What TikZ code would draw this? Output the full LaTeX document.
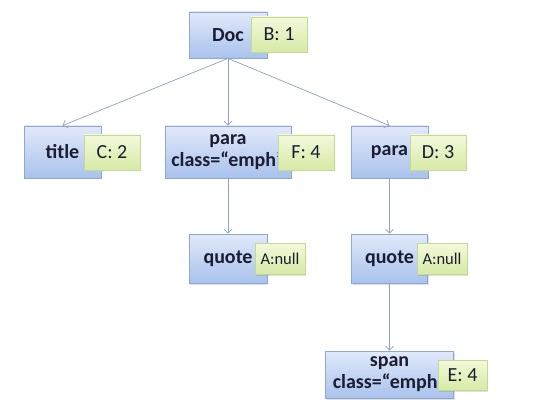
\documentclass[tikz,border=0pt]{standalone}
\usepackage{fontspec}
\setmainfont{Carlito}
\usetikzlibrary{arrows.meta,shadows}
\definecolor{boxtop}{HTML}{E1E9FA}
\definecolor{boxbot}{HTML}{A9C2EC}
\definecolor{boxline}{HTML}{8EA8D4}
\definecolor{tagtop}{HTML}{F3F9DA}
\definecolor{tagbot}{HTML}{D6EAA6}
\definecolor{tagline}{HTML}{C5D994}
\definecolor{linkcol}{HTML}{8FA2C0}
\definecolor{inkcol}{HTML}{1B1D33}
\tikzset{
	elem/.style={draw=boxline, line width=0.8pt, top color=boxtop, bottom color=boxbot,
		drop shadow={shadow xshift=1.2pt, shadow yshift=-1.5pt, opacity=0.25},
		font=\fontsize{20}{22}\selectfont\bfseries, text=inkcol, align=center, inner sep=0pt},
	tag/.style={draw=tagline, line width=0.8pt, top color=tagtop, bottom color=tagbot,
		drop shadow={shadow xshift=1.2pt, shadow yshift=-1.5pt, opacity=0.25},
		font=\fontsize{20}{22}\selectfont, text=inkcol, inner sep=0pt,
		minimum width=56pt, minimum height=35pt},
	link/.style={draw=linkcol, line width=0.7pt, -{Straight Barb[length=4pt,width=8pt]}}
}
\begin{document}
\begin{tikzpicture}[x=1pt,y=-1pt]
			%%%%% START %%%%%
			\useasboundingbox[fill=white] (0,0) rectangle (549,417);
			
			\node[elem, minimum width=78pt, minimum height=46pt] (doc) at (228,35) {Doc};
			\node[tag] (tagB) at (279,34.5) {B: 1};
			
			\node[elem, minimum width=77pt, minimum height=52pt] (title) at (62.5,152) {title};
			\node[tag] (tagC) at (112,152.5) {C: 2};
			
			\node[elem, minimum width=126pt, minimum height=52pt] (paraF) at (228,152) {para\\class=“emph”};
			\node[tag] (tagF) at (306,152.5) {F: 4};
			
			\node[elem, minimum width=77pt, minimum height=52pt] (paraD) at (389.5,152) {para};
			\node[tag] (tagD) at (438,152.5) {D: 3};
			
			\node[elem, minimum width=78pt, minimum height=49pt] (quoteF) at (228,258.5) {quote};
			\node[tag, minimum width=50pt, minimum height=31pt, font=\fontsize{16.5}{18}\selectfont] (tagAF) at (280,258.5) {A:null};
			
			\node[elem, minimum width=76pt, minimum height=49pt] (quoteD) at (389.5,258.5) {quote};
			\node[tag, minimum width=50pt, minimum height=31pt, font=\fontsize{16.5}{18}\selectfont] (tagAD) at (442,258.5) {A:null};
			
			\node[elem, minimum width=128pt, minimum height=47pt] (span) at (389.5,374.5) {span\\class=“emph”};
			\node[tag, minimum width=49pt, minimum height=30pt] (tagE) at (462.5,375) {E: 4};
			
			\draw[link] (doc.south) -- (title.north);
			\draw[link] (doc.south) -- (paraF.north);
			\draw[link] (doc.south) -- (paraD.north);
			\draw[link] (paraF.south) -- (quoteF.north);
			\draw[link] (paraD.south) -- (quoteD.north);
			\draw[link] (quoteD.south) -- (span.north);
			%%%%% END %%%%%
\end{tikzpicture}
\end{document}
